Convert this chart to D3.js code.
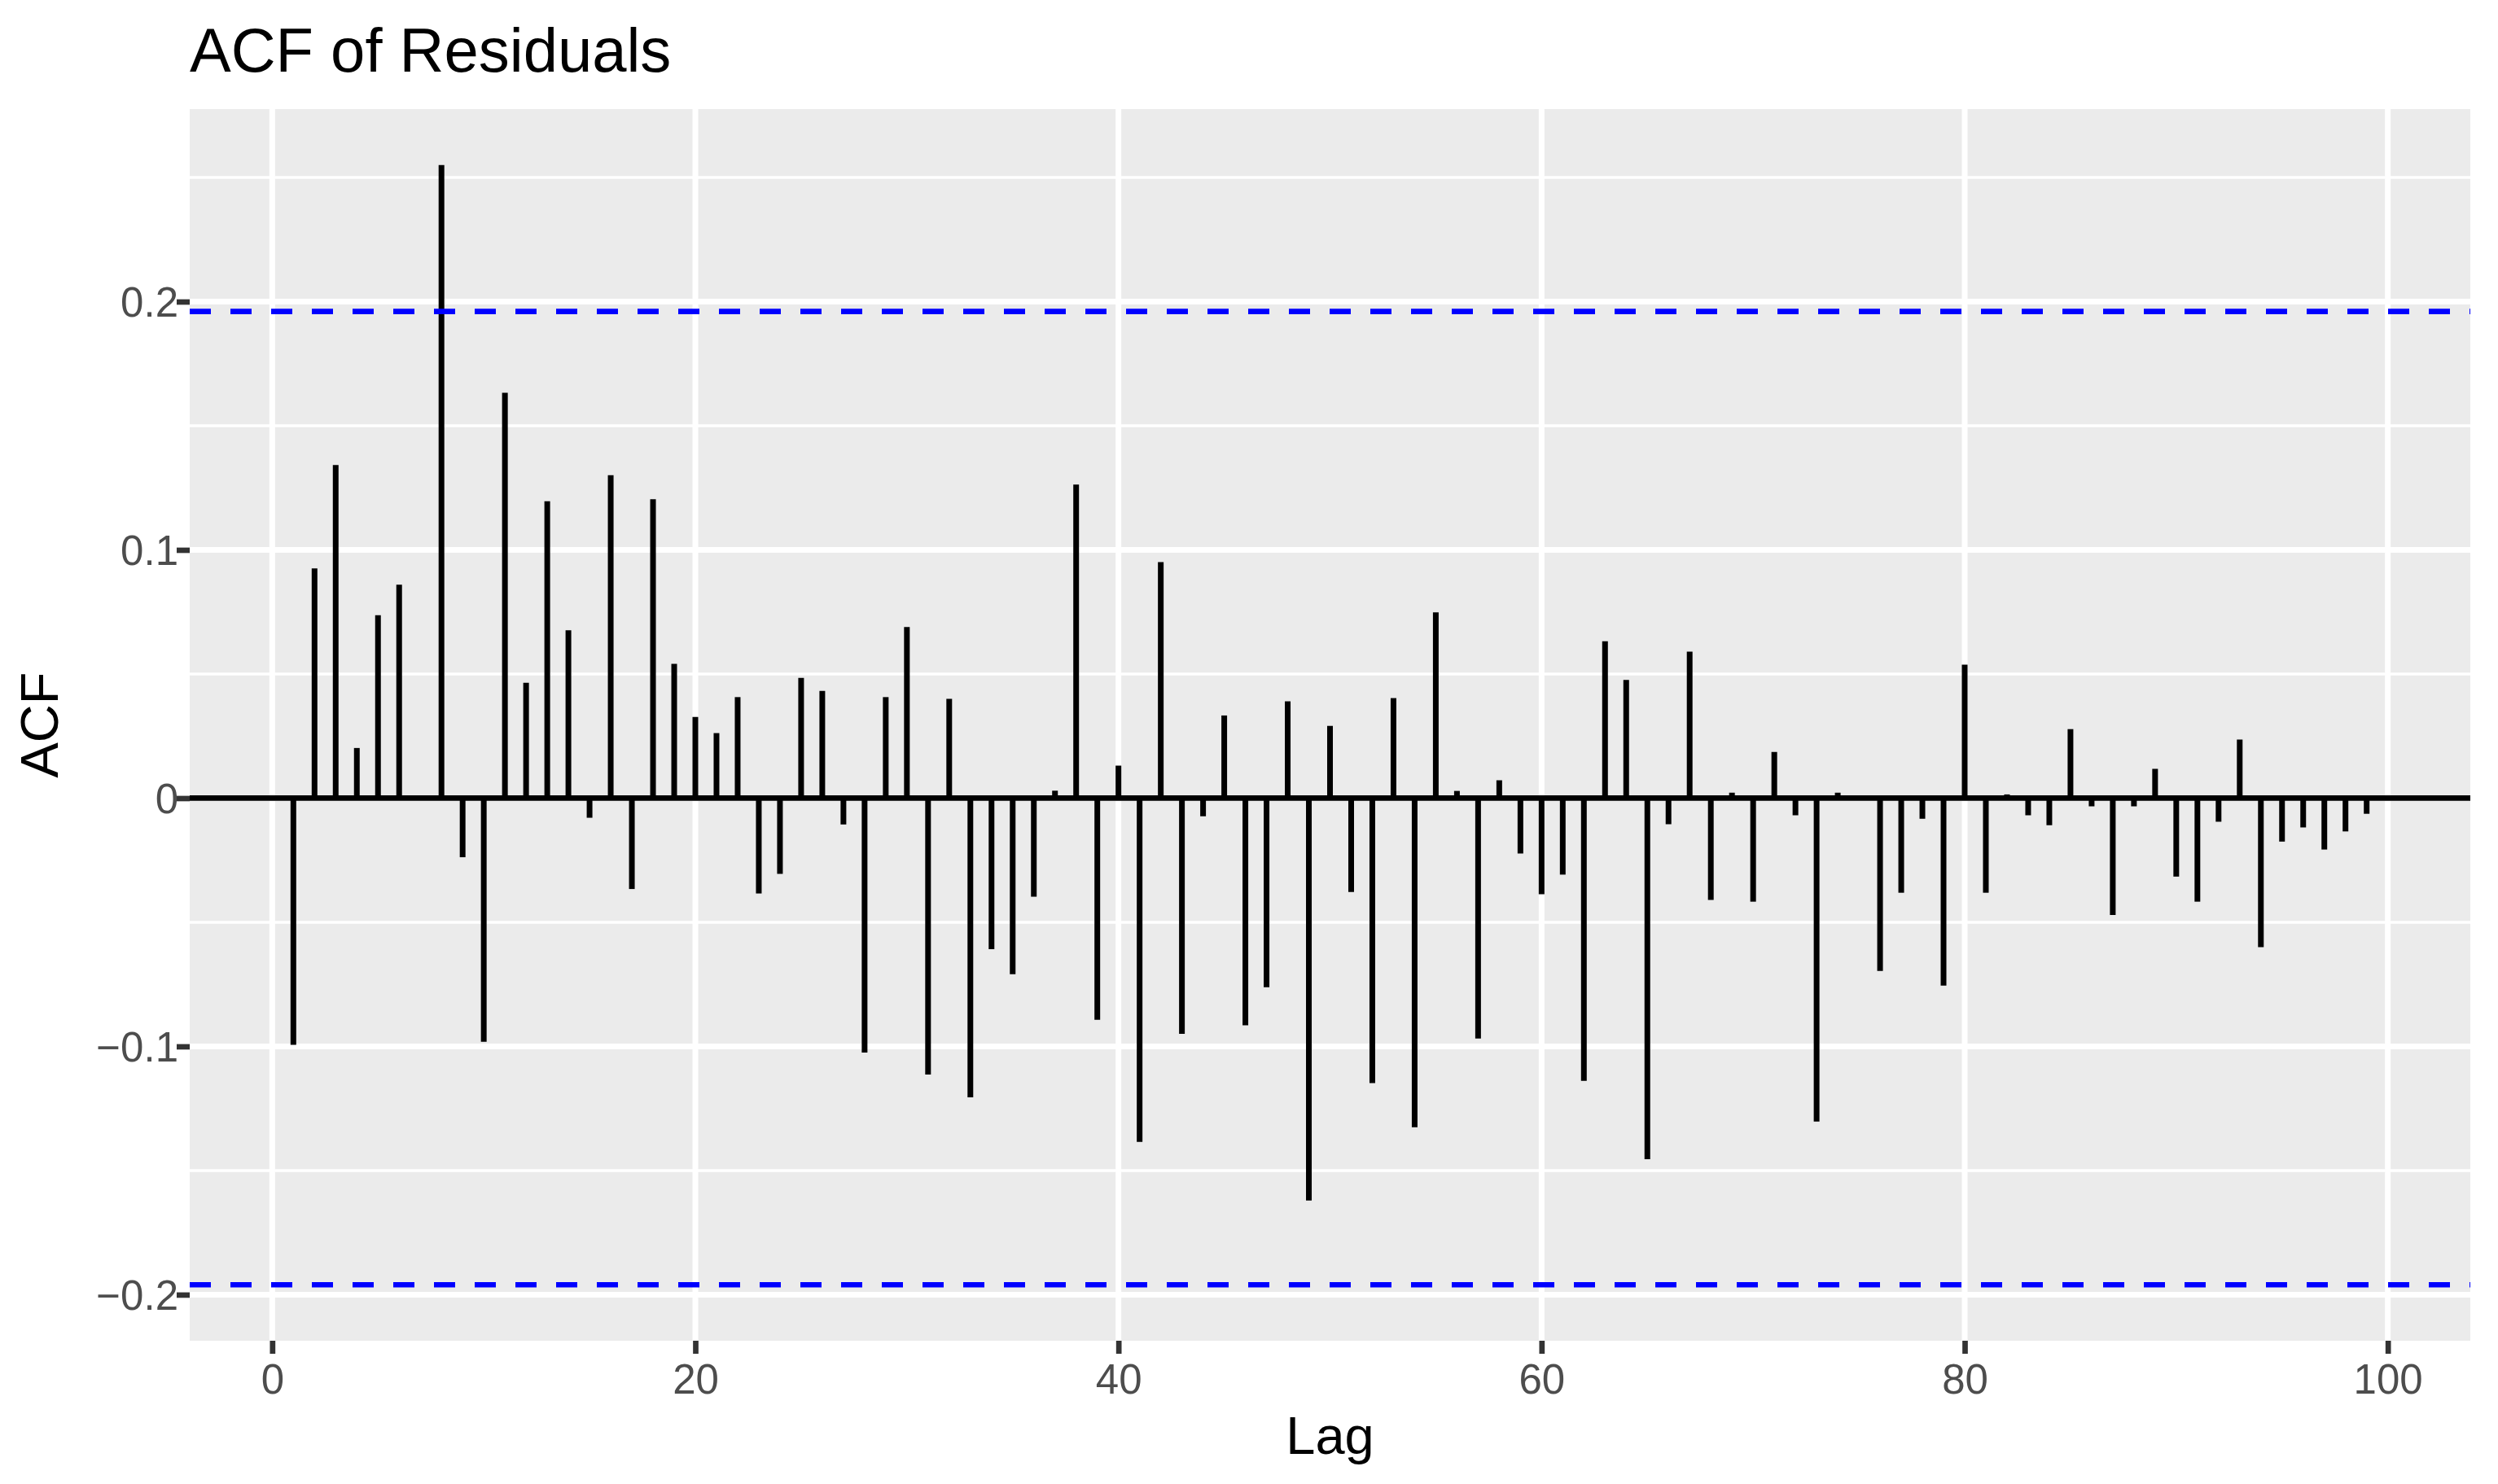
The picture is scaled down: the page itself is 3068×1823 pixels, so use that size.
<!DOCTYPE html>
<html>
<head>
<meta charset="utf-8">
<script src="https://cdn.jsdelivr.net/npm/d3@7"></script>
<style>
  html, body { margin: 0; padding: 0; background: #ffffff; }
  svg { display: block; }
  text { font-family: "Liberation Sans", Arial, Helvetica, sans-serif; }
</style>
</head>
<body>
<svg id="chart" width="3068" height="1823"></svg>
<script>
// ---- data ----
const lags = d3.range(1, 100);
const acfValues = [
  -0.0994, 0.0925, 0.1342, 0.0202, 0.0737, 0.0860, 0.0000, 0.2550, -0.0238, -0.0981,
  0.1633, 0.0465, 0.1196, 0.0676, -0.0079, 0.1301, -0.0366, 0.1204, 0.0541, 0.0327,
  0.0262, 0.0407, -0.0384, -0.0305, 0.0484, 0.0432, -0.0106, -0.1025, 0.0407, 0.0689,
  -0.1113, 0.0400, -0.1205, -0.0608, -0.0709, -0.0397, 0.0030, 0.1263, -0.0893, 0.0131,
  -0.1385, 0.0951, -0.0949, -0.0073, 0.0333, -0.0915, -0.0762, 0.0390, -0.1621, 0.0291,
  -0.0378, -0.1148, 0.0403, -0.1326, 0.0748, 0.0029, -0.0968, 0.0072, -0.0223, -0.0387,
  -0.0308, -0.1139, 0.0632, 0.0476, -0.1454, -0.0105, 0.0590, -0.0410, 0.0022, -0.0417,
  0.0186, -0.0069, -0.1303, 0.0022, 0.0000, -0.0696, -0.0381, -0.0083, -0.0755, 0.0538,
  -0.0381, 0.0015, -0.0069, -0.0109, 0.0278, -0.0033, -0.0471, -0.0033, 0.0118, -0.0316,
  -0.0417, -0.0095, 0.0236, -0.0600, -0.0175, -0.0118, -0.0207, -0.0134, -0.0063
];
const confLimit = 0.196;
const xTicks = [0, 20, 40, 60, 80, 100];
const yTicks = [-0.2, -0.1, 0, 0.1, 0.2];
const yTickLabels = ["\u22120.2", "\u22120.1", "0", "0.1", "0.2"];
const yMinor = [-0.25, -0.15, -0.05, 0.05, 0.15, 0.25];
const titleText = "ACF of Residuals";
const xLabel = "Lag";
const yLabel = "ACF";

// ---- layout ----
const panel = { left: 233, right: 3034, top: 134, bottom: 1647 };

const svg = d3.select("#chart");

// ggplot-style 5% expansion
const xMin = d3.min(lags), xMax = d3.max(lags);
const xPad = (xMax - xMin) * 0.05;
const yLo = Math.min(d3.min(acfValues), -confLimit);
const yHi = Math.max(d3.max(acfValues), confLimit);
const yPad = (yHi - yLo) * 0.05;

const x = d3.scaleLinear().domain([xMin - xPad, xMax + xPad]).range([panel.left, panel.right]);
const y = d3.scaleLinear().domain([yLo - yPad, yHi + yPad]).range([panel.bottom, panel.top]);

const data = lags.map((l, i) => ({ lag: l, acf: acfValues[i] }));

// panel background
svg.append("rect")
  .attr("x", panel.left).attr("y", panel.top)
  .attr("width", panel.right - panel.left).attr("height", panel.bottom - panel.top)
  .attr("fill", "#EBEBEB");

svg.append("clipPath").attr("id", "pclip").append("rect")
  .attr("x", panel.left).attr("y", panel.top)
  .attr("width", panel.right - panel.left).attr("height", panel.bottom - panel.top);

const g = svg.append("g").attr("clip-path", "url(#pclip)");

// minor y grid
g.selectAll("line.yminor").data(yMinor.filter(v => y(v) >= panel.top && y(v) <= panel.bottom))
  .enter().append("line").attr("class", "yminor")
  .attr("x1", panel.left).attr("x2", panel.right)
  .attr("y1", d => y(d)).attr("y2", d => y(d))
  .attr("stroke", "#FFFFFF").attr("stroke-width", 3.5);

// major y grid
g.selectAll("line.ymajor").data(yTicks).enter().append("line").attr("class", "ymajor")
  .attr("x1", panel.left).attr("x2", panel.right)
  .attr("y1", d => y(d)).attr("y2", d => y(d))
  .attr("stroke", "#FFFFFF").attr("stroke-width", 7);

// major x grid
g.selectAll("line.xmajor").data(xTicks).enter().append("line").attr("class", "xmajor")
  .attr("y1", panel.top).attr("y2", panel.bottom)
  .attr("x1", d => x(d)).attr("x2", d => x(d))
  .attr("stroke", "#FFFFFF").attr("stroke-width", 7);

// zero line
g.append("line")
  .attr("x1", panel.left).attr("x2", panel.right)
  .attr("y1", y(0)).attr("y2", y(0))
  .attr("stroke", "#000000").attr("stroke-width", 6.7);

// ACF segments
g.selectAll("line.seg").data(data).enter().append("line").attr("class", "seg")
  .attr("x1", d => x(d.lag)).attr("x2", d => x(d.lag))
  .attr("y1", y(0)).attr("y2", d => y(d.acf))
  .attr("stroke", "#000000").attr("stroke-width", 7)
  .attr("stroke-linecap", "butt");

// confidence limits
g.selectAll("line.conf").data([confLimit, -confLimit]).enter().append("line").attr("class", "conf")
  .attr("x1", panel.left).attr("x2", panel.right)
  .attr("y1", d => y(d)).attr("y2", d => y(d))
  .attr("stroke", "#0000FF").attr("stroke-width", 6.7)
  .attr("stroke-dasharray", "26,24");

// axes
const xAxis = d3.axisBottom(x).tickValues(xTicks).tickSize(16).tickPadding(12).tickFormat(d3.format("d"));
const yAxis = d3.axisLeft(y).tickValues(yTicks).tickSize(16).tickPadding(12)
  .tickFormat((d, i) => yTickLabels[i]);

const gx = svg.append("g").attr("transform", `translate(0,${panel.bottom})`).call(xAxis);
const gy = svg.append("g").attr("transform", `translate(${panel.left},0)`).call(yAxis);

[gx, gy].forEach(ax => {
  ax.select(".domain").remove();
  ax.selectAll(".tick line").attr("stroke", "#333333").attr("stroke-width", 6.7);
  ax.selectAll(".tick text")
    .attr("fill", "#4D4D4D")
    .style("font-family", '"Liberation Sans", Arial, Helvetica, sans-serif')
    .style("font-size", "51px");
});
gx.selectAll(".tick text").attr("dy", null).attr("y", 65);
gy.selectAll(".tick text").attr("dy", null).attr("x", -14).attr("y", 18.3);

// title
svg.append("text")
  .attr("x", panel.left).attr("y", 88)
  .attr("fill", "#000000")
  .style("font-size", "76px")
  .text(titleText);

// axis titles
svg.append("text")
  .attr("x", (panel.left + panel.right) / 2).attr("y", 1786)
  .attr("text-anchor", "middle")
  .attr("fill", "#000000")
  .style("font-size", "65px")
  .text(xLabel);

svg.append("text")
  .attr("transform", `translate(71,${(panel.top + panel.bottom) / 2}) rotate(-90)`)
  .attr("text-anchor", "middle")
  .attr("fill", "#000000")
  .style("font-size", "65px")
  .text(yLabel);
</script>
</body>
</html>
